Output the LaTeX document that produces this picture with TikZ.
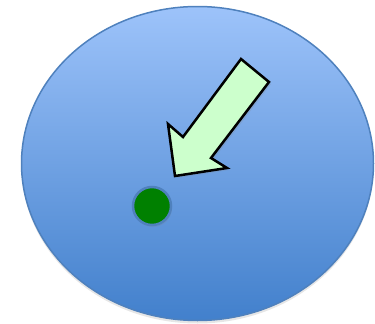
\documentclass[tikz,border=0pt]{standalone}
\usepackage{tikz}
\definecolor{clSkyTop}{HTML}{9DC3FA}
\definecolor{clSkyBot}{HTML}{4280CC}
\definecolor{clRim}{HTML}{4F81BD}
\definecolor{clPointer}{HTML}{CCFFCC}
\definecolor{clSpot}{HTML}{008000}
\usetikzlibrary{shapes.geometric,shadows}

\begin{document}
\begin{tikzpicture}[x=1pt,y=-1pt,
  region/.style={ellipse,draw=clRim,line width=1.5pt,top color=clSkyTop,bottom color=clSkyBot,
    minimum width=352pt,minimum height=314pt,inner sep=0pt},
  spot/.style={circle,fill=clSpot,draw=clRim,line width=2.5pt,minimum size=38pt,inner sep=0pt}]
  \useasboundingbox (0,0) rectangle (375,324);
  \node[region,drop shadow={opacity=0.2,shadow xshift=0pt,shadow yshift=-3pt}] (disc) at (197.5,163.5) {};
  \node[spot,drop shadow={opacity=0.2,shadow xshift=1pt,shadow yshift=-2pt}] (dot) at (152,206) {};
  % pointer towards the dot
  \filldraw[fill=clPointer,draw=black,line width=2.5pt,line join=miter,
    drop shadow={opacity=0.2,shadow xshift=2pt,shadow yshift=-2pt}]
    (241,59) -- (269,82) -- (211,158) -- (227,168) -- (175,176) -- (168,124) -- (183,137) -- cycle;
\end{tikzpicture}
\end{document}
